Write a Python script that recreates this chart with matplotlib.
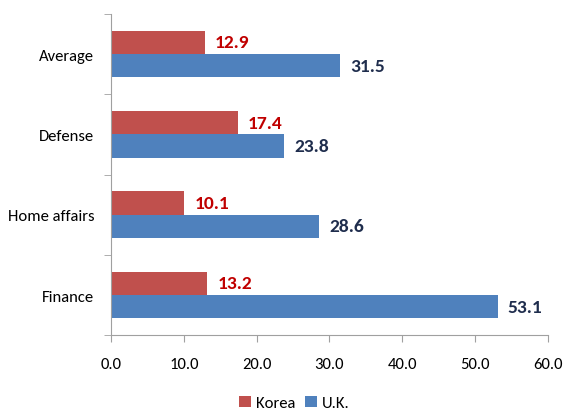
import numpy as np
import matplotlib.pyplot as plt
from matplotlib import font_manager

# data
categories = ['Finance', 'Home affairs', 'Defense', 'Average']
korea = [13.2, 10.1, 17.4, 12.9]
uk = [53.1, 28.6, 23.8, 31.5]
xticks = [0, 10, 20, 30, 40, 50, 60]

names = {f.name for f in font_manager.fontManager.ttflist}
fam = 'DejaVu Sans'
for cand in ['Carlito', 'Open Sans Condensed', 'Roboto Condensed', 'Asap Condensed',
             'Archivo Narrow', 'Liberation Sans Narrow']:
    if cand in names:
        fam = cand
        break
plt.rcParams['font.family'] = [fam, 'DejaVu Sans']

fig = plt.figure(figsize=(5.66, 4.14), dpi=100)
ax = fig.add_axes([0.196, 0.188, 0.772, 0.776])

y = np.arange(len(categories))
h = 0.29
kc, uc = '#C0504D', '#4F81BD'
ax.barh(y + h / 2, korea, height=h, color=kc, label='Korea')
ax.barh(y - h / 2, uk, height=h, color=uc, label='U.K.')

for yi, v in zip(y, korea):
    ax.text(v + 1.4, yi + h / 2, f'{v:.1f}', va='center', ha='left',
            color='#C00000', fontsize=14, fontweight='bold')
for yi, v in zip(y, uk):
    ax.text(v + 1.4, yi - h / 2, f'{v:.1f}', va='center', ha='left',
            color='#1F2D4D', fontsize=14, fontweight='bold')

ax.set_xlim(0, 60)
ax.set_ylim(-0.5, len(categories) - 0.5)
ax.set_xticks(xticks)
ax.set_xticklabels([f'{t:.1f}' for t in xticks], fontsize=12)
ax.set_yticks(y)
ax.set_yticklabels(categories, fontsize=12)
ax.set_yticks(np.arange(-0.5, len(categories)), minor=True)
ax.tick_params(axis='y', which='major', length=0, pad=12)
ax.tick_params(axis='y', which='minor', length=5, color='#A0A0A0')
ax.tick_params(axis='x', length=5, color='#A0A0A0', pad=11)

for s in ['top', 'right']:
    ax.spines[s].set_visible(False)
for s in ['left', 'bottom']:
    ax.spines[s].set_color('#A0A0A0')

fig.legend(loc='lower center', bbox_to_anchor=(0.52, -0.03), ncol=2,
           frameon=False, fontsize=12, handlelength=0.7, handleheight=0.7,
           handletextpad=0.3, columnspacing=0.6)

fig.savefig('out.png', dpi=100)
